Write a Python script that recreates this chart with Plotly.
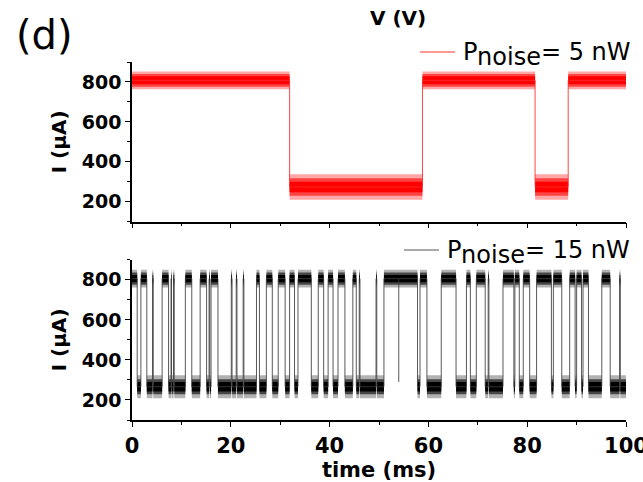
import plotly.graph_objects as go

# ---------------- data ----------------
time_range_ms = [0, 100]
current_range_uA = [100, 900]
current_ticks_uA = [200, 400, 600, 800]
time_ticks_ms = [0, 20, 40, 60, 80, 100]

# P_noise = 5 nW : switching instants (ms) and state of each dwell
switch_times_5nW = [0.0, 31.9, 58.8, 81.6, 88.3, 100.0]
states_5nW = ["H", "L", "H", "L", "H"]
levels_5nW = {"H": 808, "L": 274}          # mean current of each state (uA)
core_5nW = {"H": 20, "L": 26}              # dense noise half-width (uA)
mid_5nW = {"H": 32, "L": 44}
edge_5nW = {"H": 45, "L": 64}              # outer noise half-width (uA)

# P_noise = 15 nW : switching instants (ms), first dwell is the high state
switch_times_15nW = [
    0.0, 1.05, 1.8, 3.0, 4.15, 4.3, 6.1, 7.4, 7.9, 8.0, 8.4, 8.55, 10.8, 12.1,
    13.8, 15.1, 15.6, 15.75, 16.0, 17.4, 20.1, 20.25, 21.1, 21.25, 22.5, 22.65,
    25.2, 25.8, 27.2, 28.4, 29.6, 31.0, 31.9, 32.9, 33.6, 36.3, 37.7, 38.8,
    39.7, 40.7, 41.7, 43.1, 44.7, 45.4, 46.0, 46.15, 49.4, 49.55, 51.0, 57.8,
    58.3, 59.7, 62.6, 65.6, 67.7, 68.5, 69.7, 71.5, 72.1, 72.25, 75.1, 77.3,
    77.5, 78.4, 79.2, 80.5, 81.9, 84.9, 85.3, 87.0, 88.6, 89.7, 90.0, 91.0,
    91.3, 92.4, 95.1, 96.8, 98.7, 98.85, 100.0,
]
first_state_15nW = "H"
levels_15nW = {"H": 806, "L": 266}
core_15nW = {"H": 18, "L": 24}
mid_15nW = {"H": 30, "L": 38}
edge_15nW = {"H": 44, "L": 58}
# short incomplete excursions from the high state: (time ms, lowest current uA)
dips_15nW_t = [54.0]
dips_15nW_I = [290]

legend_5nW = "P<sub><span style='font-size:24px'>noise</span></sub>= 5 nW"
legend_15nW = "P<sub><span style='font-size:24px'>noise</span></sub>= 15 nW"


def alternate(first, n):
    other = {"H": "L", "L": "H"}
    out, s = [], first
    for _ in range(n):
        out.append(s)
        s = other[s]
    return out


states_15nW = alternate(first_state_15nW, len(switch_times_15nW) - 1)


def dwell_polys(times, states, levels, spread):
    xs, ys = [], []
    for a, b, s in zip(times[:-1], times[1:], states):
        lv, h = levels[s], spread[s]
        xs += [a, b, b, a, a, None]
        ys += [lv - h, lv - h, lv + h, lv + h, lv - h, None]
    return xs, ys


def step_xy(times, states, levels):
    ys = [levels[s] for s in states]
    return list(times), ys + [ys[-1]]


fig = go.Figure()


def add_band(times, states, levels, spread, color, xa, ya):
    bx, by = dwell_polys(times, states, levels, spread)
    fig.add_trace(go.Scatter(x=bx, y=by, mode="lines", fill="toself", fillcolor=color,
                             line=dict(width=0), hoverinfo="skip", showlegend=False,
                             xaxis=xa, yaxis=ya))


def add_panel(times, states, levels, bands, col_line, xa, ya):
    for spread, color in bands:
        add_band(times, states, levels, spread, color, xa, ya)
    sx, sy = step_xy(times, states, levels)
    fig.add_trace(go.Scatter(x=sx, y=sy, mode="lines", line=dict(color=col_line, width=1, shape="hv"),
                             showlegend=False, xaxis=xa, yaxis=ya))


add_panel(switch_times_5nW, states_5nW, levels_5nW,
          [(edge_5nW, "rgba(255,0,0,0.35)"), (mid_5nW, "rgba(255,0,0,0.6)"), (core_5nW, "#ff0000")],
          "rgba(255,40,40,0.85)", "x", "y")
add_panel(switch_times_15nW, states_15nW, levels_15nW,
          [(edge_15nW, "rgba(0,0,0,0.3)"), (mid_15nW, "rgba(0,0,0,0.6)"), (core_15nW, "#000000")],
          "rgba(60,60,60,0.85)", "x2", "y2")

dx, dy = [], []
for t, v in zip(dips_15nW_t, dips_15nW_I):
    dx += [t, t, None]
    dy += [levels_15nW["H"], v, None]
fig.add_trace(go.Scatter(x=dx, y=dy, mode="lines", line=dict(color="rgba(60,60,60,0.85)", width=1),
                         showlegend=False, xaxis="x2", yaxis="y2"))

# ---------------- layout ----------------
W, H = 643, 482
ML, MR, MT, MB = 132, 17, 62, 62
PW, PH = W - ML - MR, H - MT - MB


def px_x(p):
    return (p - ML) / PW


def px_y(p):
    return (H - MB - p) / PH


tick_font = dict(family="DejaVu Sans", size=19, color="black", weight="bold")
xtick_font = dict(family="DejaVu Sans", size=21, color="black", weight="bold")
title_font = dict(family="DejaVu Sans", size=20, color="black", weight="bold")
xtitle_font = dict(family="DejaVu Sans", size=21, color="black", weight="bold")

common_x = dict(range=time_range_ms, showline=True, linecolor="black", linewidth=1.5,
                ticks="outside", ticklen=5, tickwidth=1.2, tickcolor="black",
                tickvals=time_ticks_ms, showgrid=False, zeroline=False,
                ticklabeloverflow="allow",
                minor=dict(dtick=10, tick0=0, ticks="outside", ticklen=3, tickcolor="black", showgrid=False))
common_y = dict(range=current_range_uA, showline=True, linecolor="black", linewidth=1.5,
                ticks="outside", ticklen=5, tickwidth=1.2, tickcolor="black",
                tickvals=current_ticks_uA, showgrid=False, zeroline=False,
                tickfont=tick_font,
                title=dict(text="I (µA)", font=title_font, standoff=10),
                minor=dict(dtick=100, tick0=0, ticks="outside", ticklen=3, tickcolor="black", showgrid=False))

top_dom = [px_y(221.7), 1.0]
bot_dom = [0.0, px_y(259.8)]

fig.update_layout(
    width=W, height=H,
    margin=dict(l=ML, r=MR, t=MT, b=MB, autoexpand=False),
    paper_bgcolor="white", plot_bgcolor="white",
    showlegend=False,
    xaxis=dict(common_x, domain=[0, 1], anchor="y", showticklabels=False),
    yaxis=dict(common_y, domain=top_dom, anchor="x"),
    xaxis2=dict(common_x, domain=[0, 1], anchor="y2", tickfont=xtick_font,
                ticklabelstandoff=1,
                title=dict(text="time (ms)", font=xtitle_font, standoff=0)),
    yaxis2=dict(common_y, domain=bot_dom, anchor="x2"),
)

ann = []
ann.append(dict(text="(d)", x=px_x(44), y=px_y(35), xref="paper", yref="paper",
                xanchor="center", yanchor="middle", showarrow=False,
                font=dict(family="DejaVu Sans", size=40, color="black")))
ann.append(dict(text="<b>V (V)</b>", x=px_x(398), y=px_y(18), xref="paper", yref="paper",
                xanchor="center", yanchor="middle", showarrow=False,
                font=dict(family="DejaVu Sans", size=20, color="black")))
ann.append(dict(text=legend_5nW, x=px_x(461), y=px_y(36), xref="paper", yref="paper",
                xanchor="left", yanchor="top", showarrow=False,
                font=dict(family="DejaVu Sans", size=24, color="black")))
ann.append(dict(text=legend_15nW, x=px_x(445), y=px_y(234), xref="paper", yref="paper",
                xanchor="left", yanchor="top", showarrow=False,
                font=dict(family="DejaVu Sans", size=24, color="black")))
fig.update_layout(annotations=ann)

fig.add_shape(type="line", xref="paper", yref="paper", x0=px_x(420), x1=px_x(455),
              y0=px_y(52), y1=px_y(52), line=dict(color="#ff3030", width=1))
fig.add_shape(type="line", xref="paper", yref="paper", x0=px_x(404), x1=px_x(439),
              y0=px_y(250), y1=px_y(250), line=dict(color="#555555", width=1))

fig.write_html("out.html")
